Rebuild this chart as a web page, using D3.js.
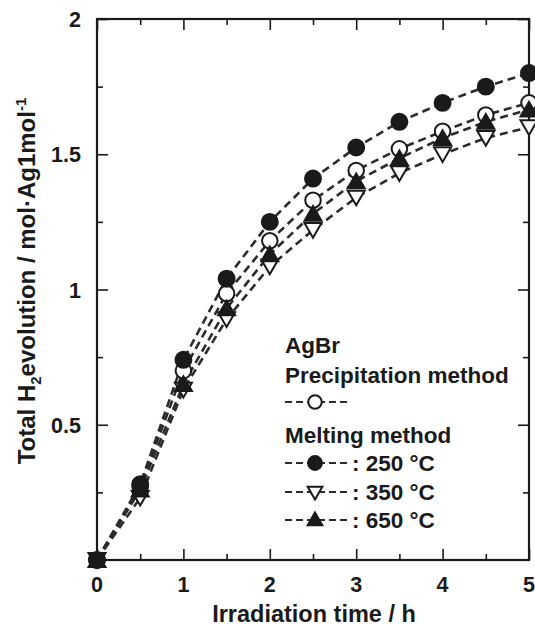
<!DOCTYPE html>
<html><head><meta charset="utf-8">
<script src="https://cdn.jsdelivr.net/npm/d3@7"></script>
<style>body{margin:0;background:#fff}svg{display:block}text{font-family:"Liberation Sans",Arial,sans-serif;font-weight:bold;fill:#1a1a1a}</style>
</head><body><svg id="c" width="535" height="629"></svg>
<script>
const times = [0,0.5,1,1.5,2,2.5,3,3.5,4,4.5,5];
const precipitation = [0,0.27,0.70,0.985,1.18,1.33,1.44,1.52,1.585,1.645,1.69];
const melt250 = [0,0.28,0.74,1.04,1.25,1.41,1.525,1.62,1.69,1.75,1.80];
const melt350 = [0,0.23,0.63,0.89,1.085,1.22,1.34,1.43,1.50,1.56,1.60];
const melt650 = [0,0.26,0.65,0.93,1.13,1.28,1.40,1.485,1.56,1.62,1.665];
const xTicks = [0,1,2,3,4,5];
const yTicks = [0.5,1,1.5,2];

const svg = d3.select("#c");
const x = d3.scaleLinear().domain([0,5]).range([97,529]);
const y = d3.scaleLinear().domain([0,2]).range([560,19]);
const ink = "#1a1a1a";

const frame = svg.append("g");
function ax(axis, tr, vals, len){
  const g = frame.append("g").attr("transform", tr)
    .call(axis.tickValues(vals).tickSize(-len).tickFormat(""));
  g.selectAll("path").remove();
  g.selectAll("line").attr("stroke", ink).attr("stroke-width", 1.6);
}
const xMinor = d3.range(0.5,5,1);
const yMinor = d3.range(0.25,2,0.5);
ax(d3.axisBottom(x), "translate(0,560)", xTicks, 11);
ax(d3.axisBottom(x), "translate(0,560)", xMinor, 6);
ax(d3.axisTop(x), "translate(0,19)", xTicks, 11);
ax(d3.axisTop(x), "translate(0,19)", xMinor, 6);
ax(d3.axisLeft(y), "translate(97,0)", yTicks, 11);
ax(d3.axisLeft(y), "translate(97,0)", yMinor, 6);
ax(d3.axisRight(y), "translate(529,0)", yTicks, 11);
ax(d3.axisRight(y), "translate(529,0)", yMinor, 6);
frame.append("rect").attr("x",97).attr("y",19).attr("width",432).attr("height",541)
  .attr("fill","none").attr("stroke",ink).attr("stroke-width",2.2);

svg.append("g").selectAll("text").data(xTicks).join("text")
  .attr("x", d=>x(d)).attr("y", 592).attr("text-anchor","middle")
  .attr("font-size", 21.5).text(d=>d);
svg.append("g").selectAll("text").data(yTicks).join("text")
  .attr("x", 81).attr("y", d=>y(d)+8).attr("text-anchor","end")
  .attr("font-size", 21.5).text(d=>d);

svg.append("text").attr("x", 314).attr("y", 622).attr("text-anchor","middle")
  .attr("font-size", 23.5).text("Irradiation time / h");
const yt = svg.append("text").attr("transform","translate(35,281) rotate(-90)")
  .attr("text-anchor","middle").attr("font-size", 24);
yt.append("tspan").text("Total H");
yt.append("tspan").attr("font-size",15).attr("dy",6).text("2");
yt.append("tspan").attr("dy",-6).text("evolution / mol\u00b7Ag1mol");
yt.append("tspan").attr("font-size",15).attr("dy",-9).text("-1");

const series = [
  {v: precipitation, sym: d3.symbolCircle, size: 190, fill: "#fff", rot: 0},
  {v: melt350, sym: d3.symbolTriangle, size: 125, fill: "#fff", rot: 180},
  {v: melt650, sym: d3.symbolTriangle, size: 125, fill: ink, rot: 0},
  {v: melt250, sym: d3.symbolCircle, size: 200, fill: ink, rot: 0}
];
const line = d3.line().x((d,i)=>x(times[i])).y(d=>y(d));
const lg = svg.append("g");
series.forEach(s=>{
  lg.append("path").attr("d", line(s.v)).attr("fill","none")
    .attr("stroke","#2b2b2b").attr("stroke-width",2.6).attr("stroke-dasharray","8,5");
});
const mg = svg.append("g");
series.forEach(s=>{
  mg.append("g").selectAll("path").data(s.v).join("path")
    .attr("transform",(d,i)=>`translate(${x(times[i])},${y(d) + (s.sym===d3.symbolTriangle ? (s.rot?-2:2) : 0)}) rotate(${s.rot})`)
    .attr("d", d3.symbol().type(s.sym).size(s.size)())
    .attr("fill", s.fill).attr("stroke", ink).attr("stroke-width", 2);
});

const leg = svg.append("g");
const fs = 22.5;
leg.append("text").attr("x",285).attr("y",353).attr("font-size",fs).text("AgBr");
leg.append("text").attr("x",285).attr("y",383).attr("font-size",fs).text("Precipitation method");
leg.append("text").attr("x",285).attr("y",443).attr("font-size",fs).text("Melting method");
const legRows = [
  {s: series[0], cy: 402, label: ""},
  {s: series[3], cy: 463, label: ": 250 \u00b0C"},
  {s: series[1], cy: 492, label: ": 350 \u00b0C"},
  {s: series[2], cy: 520, label: ": 650 \u00b0C"}
];
legRows.forEach(r=>{
  leg.append("line").attr("x1",285).attr("x2",348).attr("y1",r.cy).attr("y2",r.cy)
    .attr("stroke","#2b2b2b").attr("stroke-width",2).attr("stroke-dasharray","7,4");
  leg.append("path").attr("transform",`translate(315,${r.cy + (r.s.sym===d3.symbolTriangle ? (r.s.rot?-1:1) : 0)}) rotate(${r.s.rot})`)
    .attr("d", d3.symbol().type(r.s.sym).size(r.s.size*0.75)())
    .attr("fill", r.s.fill).attr("stroke", ink).attr("stroke-width", 2);
  if (r.label) leg.append("text").attr("x",352).attr("y",r.cy+8).attr("font-size",fs).text(r.label);
});
</script></body></html>
